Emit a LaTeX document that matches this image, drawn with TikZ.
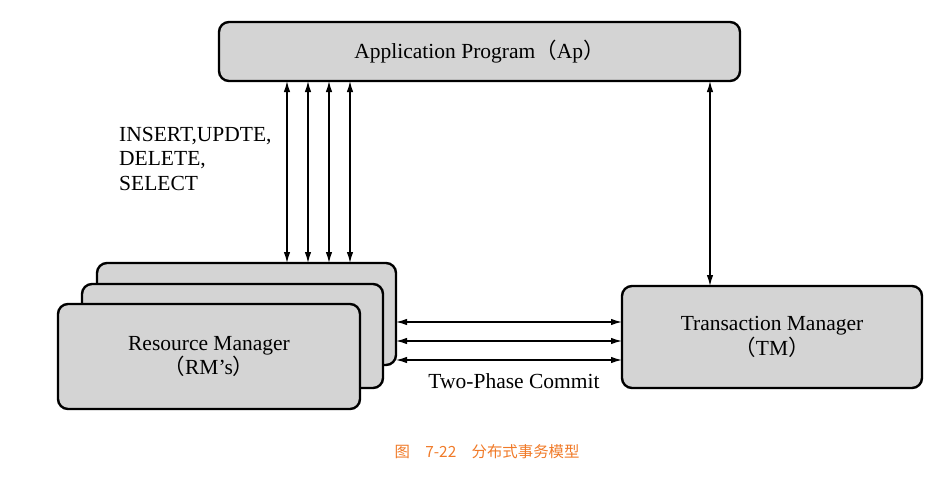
\documentclass[tikz,border=0pt]{standalone}
\usepackage{fontspec}
\setmainfont{Liberation Serif}
\newfontfamily\cjk{Noto Sans CJK SC}
\usetikzlibrary{arrows.meta}
\definecolor{boxgray}{HTML}{D4D4D4}
\definecolor{caporange}{HTML}{F07A28}

\begin{document}
\begin{tikzpicture}[x=1pt, y=-1pt,
    box/.style={draw, line width=2.4pt, fill=boxgray, rounded corners=10pt, outer sep=0pt, inner sep=0pt, align=center},
    link/.style={{Latex[length=11pt,width=6.5pt]}-{Latex[length=11pt,width=6.5pt]}, line width=1.3pt},
    txt/.style={font=\fontsize{21.5}{24.5}\selectfont}]
    \useasboundingbox (0,0) rectangle (945,482);

    % Application program
    \node[box, txt, minimum width=521pt, minimum height=59pt] (AP) at (479.5,51.5) {Application Program{\cjk （}Ap{\cjk ）}};

    % Resource managers (stacked)
    \node[box, minimum width=299pt, minimum height=102pt] (rmC) at (246.5,314) {};
    \node[box, minimum width=301pt, minimum height=104pt] (rmB) at (232.5,336) {};
    \node[box, txt, minimum width=302pt, minimum height=105pt] (rmA) at (209,356.5) {Resource Manager\\{\cjk （}RM's{\cjk ）}};

    % Transaction manager
    \node[box, txt, minimum width=300pt, minimum height=102pt] (TM) at (772,337) {Transaction Manager\\{\cjk （}TM{\cjk ）}};

    % SQL calls
    \foreach \x in {287,308,329,350}
      \draw[link] (\x,0 |- AP.south) -- (\x,0 |- rmC.north);
    \node[txt, anchor=north west, align=left, inner sep=0pt] (sql) at (119,127) {INSERT,UPDTE,\\DELETE,\\SELECT};

    % AP to TM
    \draw[link] (710,0 |- AP.south) -- (710,0 |- TM.north);

    % Two-phase commit
    \foreach \y in {322,341,360}
      \draw[link] (rmC.east |- 0,\y) -- (TM.west |- 0,\y);
    \node[txt] (tpc) at (514,381) {Two-Phase Commit};

    % Caption
    \node[text=caporange, font=\cjk\fontsize{15.4}{18}\selectfont] (cap) at (487,452) {图\quad 7-22\quad 分布式事务模型};
\end{tikzpicture}
\end{document}
